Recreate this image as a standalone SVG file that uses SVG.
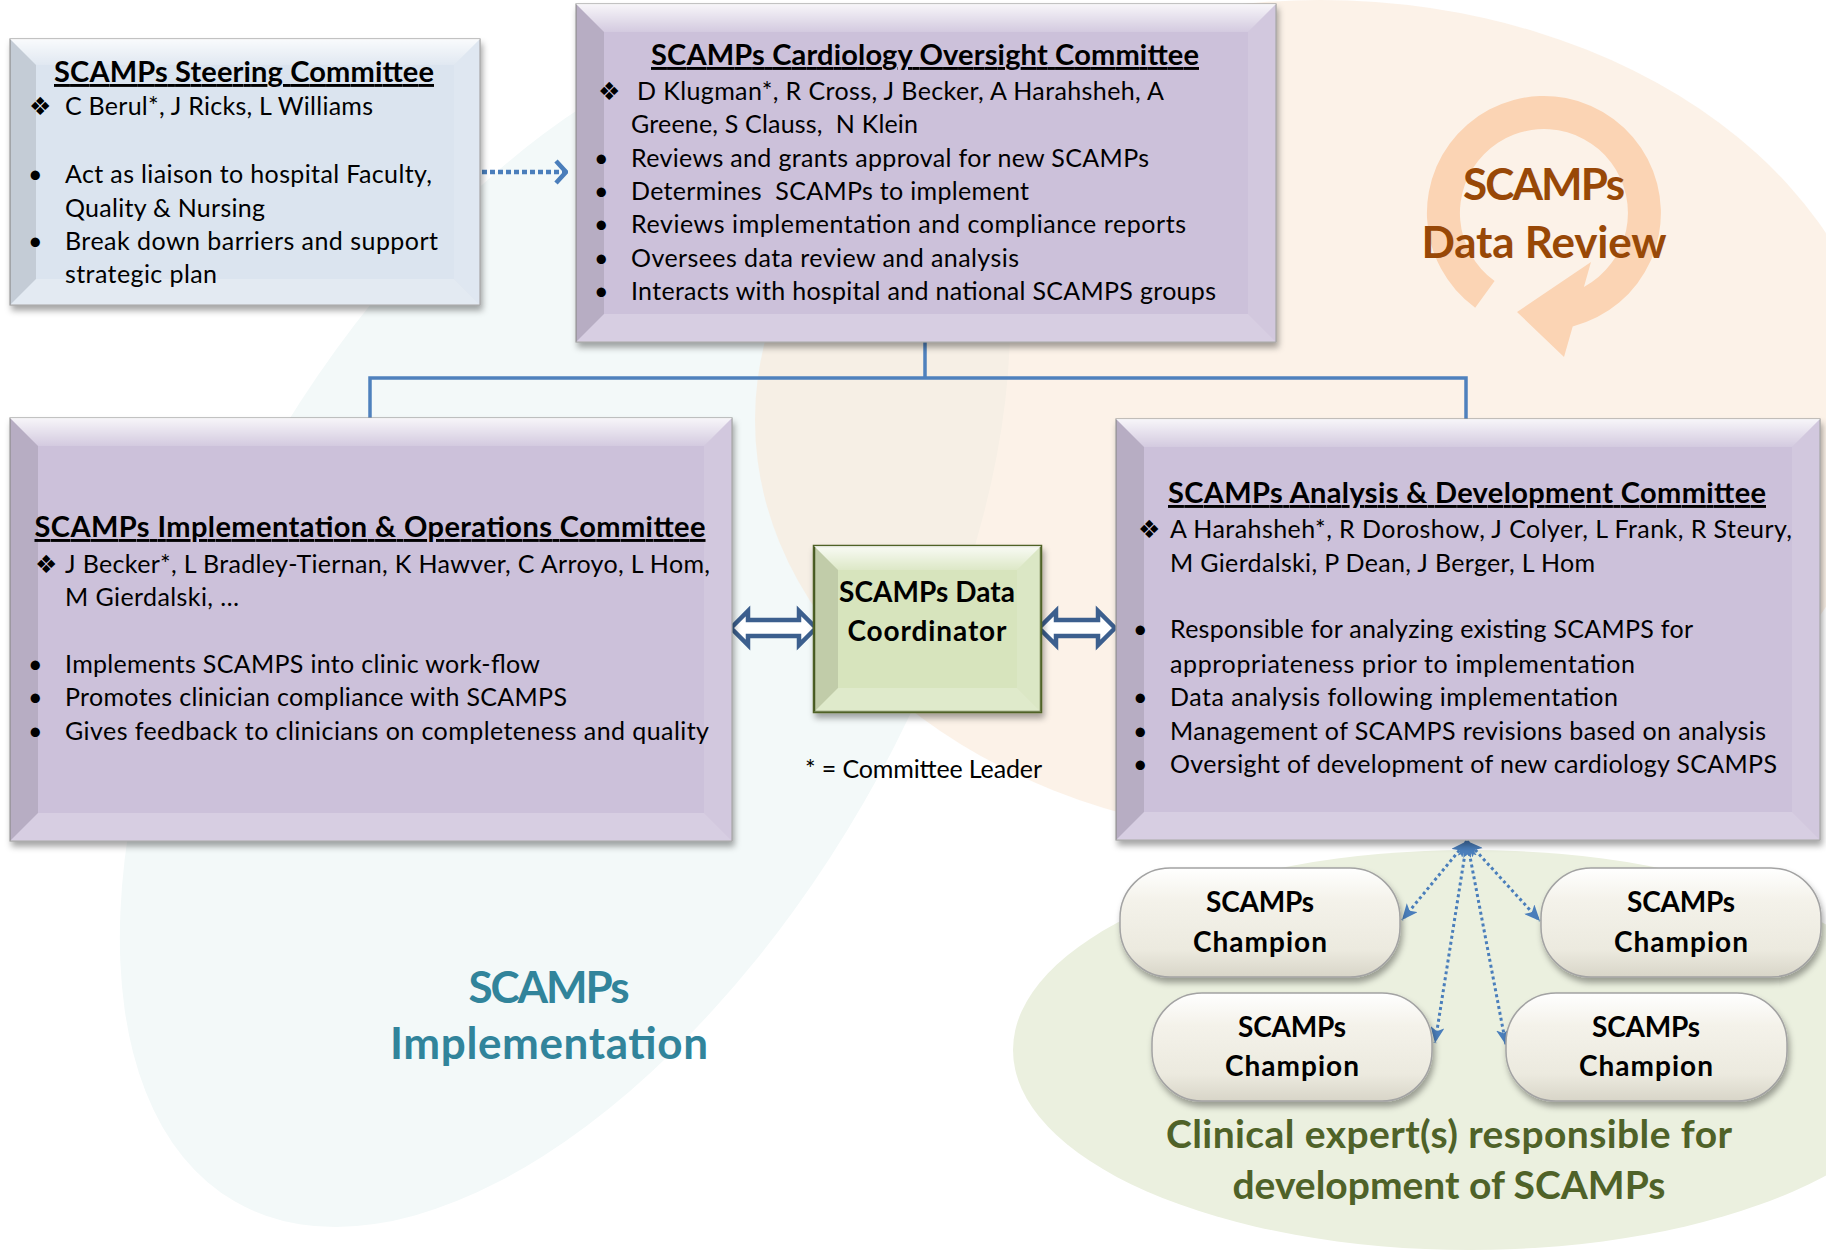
<svg xmlns="http://www.w3.org/2000/svg" width="1826" height="1254" viewBox="0 0 1826 1254">
<defs>
<style>
.t{font-family:Lato,"Liberation Sans",sans-serif;font-size:25px;fill:#000}
.ttl{font-family:Lato,"Liberation Sans",sans-serif;font-size:29px;font-weight:bold;text-decoration:underline;text-anchor:middle;fill:#000}
.sym{font-family:"DejaVu Sans",sans-serif;font-size:25px;fill:#000}
.cb{font-family:Lato,"Liberation Sans",sans-serif;font-size:28px;font-weight:bold;text-anchor:middle;fill:#000}
.big{font-family:Lato,"Liberation Sans",sans-serif;font-weight:bold;text-anchor:middle}
.box{stroke:#9c9c9c;stroke-width:1.2;filter:url(#sh)}
.pur{fill:#ccc1da}
.blu{fill:#dbe4ef}
.grn{fill:#d7e4bd;stroke:#4f6228;stroke-width:2.5;filter:url(#sh)}
.bt{fill:url(#gTop)}
.bl{fill:#000;fill-opacity:.1}
.br{fill:#fff;fill-opacity:.12}
.bb{fill:#fff;fill-opacity:.22}
.conn{fill:none;stroke:#4f81bd;stroke-width:3.5}
.dot1{fill:none;stroke:#4a7ebb;stroke-width:4.5;stroke-dasharray:5 3}
.dot2{fill:none;stroke:#4a7ebb;stroke-width:3;stroke-dasharray:3 3}
.dbl{fill:#fff;stroke:#3c5f8e;stroke-width:4.5;stroke-linejoin:miter}
.pill{fill:url(#gPill);stroke:#a3a3a3;stroke-width:1.5;filter:url(#sh)}
</style>
<linearGradient id="gTop" x1="0" y1="0" x2="0" y2="1">
<stop offset="0" stop-color="#fff" stop-opacity=".85"/>
<stop offset="1" stop-color="#fff" stop-opacity=".15"/>
</linearGradient>
<linearGradient id="gPill" x1="0" y1="0" x2="0" y2="1">
<stop offset="0" stop-color="#ffffff"/>
<stop offset=".3" stop-color="#f4f2ea"/>
<stop offset=".75" stop-color="#eceadf"/>
<stop offset="1" stop-color="#d8d5c8"/>
</linearGradient>
<filter id="sh" x="-5%" y="-5%" width="112%" height="118%">
<feDropShadow dx="2" dy="5" stdDeviation="3" flood-color="#000" flood-opacity=".35"/>
</filter>
<marker id="chev" viewBox="0 0 14 26" refX="12" refY="13" markerWidth="14" markerHeight="26" markerUnits="userSpaceOnUse" orient="auto">
<path d="M2,2 L12,13 L2,24" fill="none" stroke="#4a7ebb" stroke-width="4.5"/>
</marker>
<marker id="st" viewBox="0 0 16 14" refX="16" refY="7" markerWidth="16" markerHeight="14" markerUnits="userSpaceOnUse" orient="auto-start-reverse">
<path d="M0,0 L16,7 L0,14 L4,7 z" fill="#4a7ebb"/>
</marker>
</defs>

<g id="background">
<rect x="0" y="0" width="1826" height="1254" fill="#fff"/>
<ellipse cx="565" cy="630" rx="660" ry="345" transform="rotate(-60 565 630)" fill="#f3f9f9"/>
<ellipse cx="1320" cy="420" rx="565" ry="420" fill="#f9e5d1" fill-opacity=".5"/>
<ellipse cx="1470" cy="1050" rx="457" ry="200" fill="#ebf0df"/>
<path d="M1475.2,307.7 A117,117 0 1 1 1572.7,326.4 L1564,357 L1517,312 L1591,262 L1583.9,286.9 A84,84 0 1 0 1494.6,281 Z" fill="#fbd4b4"/>
</g>

<g id="labels">
<text class="big" x="549" y="1003" font-size="44" fill="#31849b" textLength="161">SCAMPs</text>
<text class="big" x="549" y="1059" font-size="44" fill="#31849b" textLength="318">Implementation</text>
<text class="big" x="1544" y="200" font-size="44" fill="#984807" textLength="162">SCAMPs</text>
<text class="big" x="1544" y="258" font-size="44" fill="#984807" textLength="245">Data Review</text>
<text class="big" x="1449" y="1148" font-size="39" fill="#4f6228" textLength="566">Clinical expert(s) responsible for</text>
<text class="big" x="1449" y="1199" font-size="39" fill="#4f6228" textLength="433">development of SCAMPs</text>
<text class="t" x="805" y="778" font-size="23" textLength="237">* = Committee Leader</text>
</g>

<g id="connectors">
<path class="conn" d="M925,342 V378 M370,418 V378 H1466 V419"/>
<path class="dot1" d="M482,172 H566" marker-end="url(#chev)"/>
<path class="dbl" d="M731,628 L748,611 L748,620 L799,620 L799,611 L816,628 L799,645 L799,636 L748,636 L748,645 Z"/>
<path class="dbl" d="M1039,628 L1056,611 L1056,620 L1098,620 L1098,611 L1115,628 L1098,645 L1098,636 L1056,636 L1056,645 Z"/>
<path class="dot2" d="M1467,841 L1402,920" marker-start="url(#st)" marker-end="url(#st)"/>
<path class="dot2" d="M1467,841 L1540,921" marker-start="url(#st)" marker-end="url(#st)"/>
<path class="dot2" d="M1467,841 L1435,1043" marker-start="url(#st)" marker-end="url(#st)"/>
<path class="dot2" d="M1467,841 L1506,1045" marker-start="url(#st)" marker-end="url(#st)"/>
</g>

<g id="steering">
<rect class="box blu" x="10" y="39" width="470" height="266"/>
<polygon class="bt" points="10,39 480,39 454,65 36,65"/>
<polygon class="bl" points="10,39 36,65 36,279 10,305"/>
<polygon class="br" points="480,39 480,305 454,279 454,65"/>
<polygon class="bb" points="10,305 36,279 454,279 480,305"/>
<text class="ttl" x="244" y="82" textLength="380">SCAMPs Steering Committee</text>
<text class="sym" x="29" y="115">❖</text>
<text class="t" x="65" y="115" textLength="308">C Berul*, J Ricks, L Williams</text>
<text class="t" x="28" y="183">•</text>
<text class="t" x="65" y="183" textLength="367">Act as liaison to hospital Faculty,</text>
<text class="t" x="65" y="217" textLength="200">Quality &amp; Nursing</text>
<text class="t" x="28" y="250">•</text>
<text class="t" x="65" y="250" textLength="373">Break down barriers and support</text>
<text class="t" x="65" y="283" textLength="152">strategic plan</text>
</g>

<g id="cardiology">
<rect class="box pur" x="576" y="4" width="700" height="338"/>
<polygon class="bt" points="576,4 1276,4 1248,32 604,32"/>
<polygon class="bl" points="576,4 604,32 604,314 576,342"/>
<polygon class="br" points="1276,4 1276,342 1248,314 1248,32"/>
<polygon class="bb" points="576,342 604,314 1248,314 1276,342"/>
<text class="ttl" x="925" y="65" textLength="548">SCAMPs Cardiology Oversight Committee</text>
<text class="sym" x="598" y="100">❖</text>
<text class="t" x="637" y="100" textLength="527">D Klugman*, R Cross, J Becker, A Harahsheh, A</text>
<text class="t" x="631" y="133" textLength="287">Greene, S Clauss,&#160; N Klein</text>
<text class="t" x="594" y="167">•</text>
<text class="t" x="631" y="167" textLength="518">Reviews and grants approval for new SCAMPs</text>
<text class="t" x="594" y="200">•</text>
<text class="t" x="631" y="200" textLength="398">Determines&#160; SCAMPs to implement</text>
<text class="t" x="594" y="233">•</text>
<text class="t" x="631" y="233" textLength="555">Reviews implementation and compliance reports</text>
<text class="t" x="594" y="267">•</text>
<text class="t" x="631" y="267" textLength="388">Oversees data review and analysis</text>
<text class="t" x="594" y="300">•</text>
<text class="t" x="631" y="300" textLength="585">Interacts with hospital and national SCAMPS groups</text>
</g>

<g id="implementation">
<rect class="box pur" x="10" y="418" width="722" height="423"/>
<polygon class="bt" points="10,418 732,418 704,446 38,446"/>
<polygon class="bl" points="10,418 38,446 38,813 10,841"/>
<polygon class="br" points="732,418 732,841 704,813 704,446"/>
<polygon class="bb" points="10,841 38,813 704,813 732,841"/>
<text class="ttl" x="370" y="537" textLength="671">SCAMPs Implementation &amp; Operations Committee</text>
<text class="sym" x="35" y="573">❖</text>
<text class="t" x="65" y="573" textLength="645">J Becker*, L Bradley-Tiernan, K Hawver, C Arroyo, L Hom,</text>
<text class="t" x="65" y="606" textLength="174">M Gierdalski, …</text>
<text class="t" x="28" y="673">•</text>
<text class="t" x="65" y="673" textLength="475">Implements SCAMPS into clinic work-flow</text>
<text class="t" x="28" y="706">•</text>
<text class="t" x="65" y="706" textLength="502">Promotes clinician compliance with SCAMPS</text>
<text class="t" x="28" y="740">•</text>
<text class="t" x="65" y="740" textLength="644">Gives feedback to clinicians on completeness and quality</text>
</g>

<g id="analysis">
<rect class="box pur" x="1116" y="419" width="704" height="421"/>
<polygon class="bt" points="1116,419 1820,419 1792,447 1144,447"/>
<polygon class="bl" points="1116,419 1144,447 1144,812 1116,840"/>
<polygon class="br" points="1820,419 1820,840 1792,812 1792,447"/>
<polygon class="bb" points="1116,840 1144,812 1792,812 1820,840"/>
<text class="ttl" x="1467" y="503" textLength="598">SCAMPs Analysis &amp; Development Committee</text>
<text class="sym" x="1138" y="538">❖</text>
<text class="t" x="1170" y="538" textLength="622">A Harahsheh*, R Doroshow, J Colyer, L Frank, R Steury,</text>
<text class="t" x="1170" y="572" textLength="425">M Gierdalski, P Dean, J Berger, L Hom</text>
<text class="t" x="1133" y="638">•</text>
<text class="t" x="1170" y="638" textLength="523">Responsible for analyzing existing SCAMPS for</text>
<text class="t" x="1170" y="673" textLength="465">appropriateness prior to implementation</text>
<text class="t" x="1133" y="706">•</text>
<text class="t" x="1170" y="706" textLength="448">Data analysis following implementation</text>
<text class="t" x="1133" y="740">•</text>
<text class="t" x="1170" y="740" textLength="596">Management of SCAMPS revisions based on analysis</text>
<text class="t" x="1133" y="773">•</text>
<text class="t" x="1170" y="773" textLength="607">Oversight of development of new cardiology SCAMPS</text>
</g>

<g id="data-coordinator">
<rect class="grn" x="814" y="546" width="227" height="166"/>
<polygon class="bt" points="814,546 1041,546 1017,570 838,570"/>
<polygon class="bl" points="814,546 838,570 838,688 814,712"/>
<polygon class="br" points="1041,546 1041,712 1017,688 1017,570"/>
<polygon class="bb" points="814,712 838,688 1017,688 1041,712"/>
<text class="cb" x="927" y="602" textLength="176">SCAMPs Data</text>
<text class="cb" x="927" y="641" textLength="159">Coordinator</text>
</g>

<g id="champion-1">
<rect class="pill" x="1120" y="868" width="280" height="109" rx="50" ry="50"/>
<text class="cb" x="1260" y="912" textLength="108">SCAMPs</text>
<text class="cb" x="1260" y="952" textLength="134">Champion</text>
</g>
<g id="champion-2">
<rect class="pill" x="1541" y="868" width="280" height="109" rx="50" ry="50"/>
<text class="cb" x="1681" y="912" textLength="108">SCAMPs</text>
<text class="cb" x="1681" y="952" textLength="134">Champion</text>
</g>
<g id="champion-3">
<rect class="pill" x="1152" y="993" width="280" height="108" rx="50" ry="50"/>
<text class="cb" x="1292" y="1037" textLength="108">SCAMPs</text>
<text class="cb" x="1292" y="1076" textLength="134">Champion</text>
</g>
<g id="champion-4">
<rect class="pill" x="1506" y="993" width="281" height="108" rx="50" ry="50"/>
<text class="cb" x="1646" y="1037" textLength="108">SCAMPs</text>
<text class="cb" x="1646" y="1076" textLength="134">Champion</text>
</g>
</svg>
